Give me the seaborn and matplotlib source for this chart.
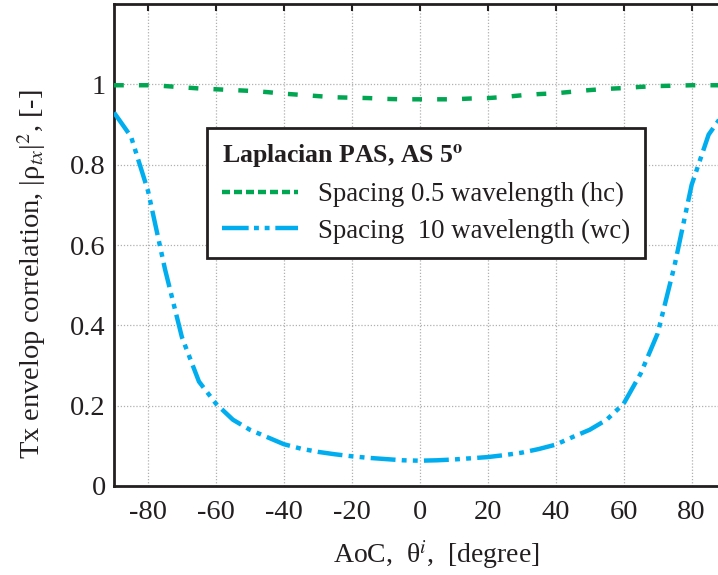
import numpy as np
import pandas as pd
import matplotlib
matplotlib.use("Agg")
import matplotlib.pyplot as plt
import seaborn as sns

# ---- data ----
angle = [-90, -85, -80, -75, -70, -65, -60, -55, -50, -45, -40, -35, -30, -25, -20, -15, -10, -5,
         0, 5, 10, 15, 20, 25, 30, 35, 40, 45, 50, 55, 60, 65, 70, 75, 80, 85, 90]
corr_hc = [0.998, 0.998, 0.998, 0.996, 0.993, 0.990, 0.988, 0.986, 0.984, 0.981, 0.977, 0.974,
           0.971, 0.968, 0.967, 0.966, 0.964, 0.963, 0.963, 0.963, 0.963, 0.965, 0.966, 0.969,
           0.973, 0.976, 0.978, 0.982, 0.986, 0.989, 0.991, 0.994, 0.996, 0.997, 0.998, 0.998, 0.998]
corr_wc = [0.930, 0.870, 0.735, 0.540, 0.370, 0.260, 0.205, 0.165, 0.140, 0.122, 0.104, 0.093,
           0.085, 0.079, 0.074, 0.070, 0.067, 0.064, 0.063, 0.064, 0.066, 0.069, 0.072, 0.077,
           0.083, 0.092, 0.103, 0.122, 0.140, 0.165, 0.205, 0.280, 0.380, 0.550, 0.750, 0.875, 0.935]
label_hc = "Spacing 0.5 wavelength (hc)"
label_wc = "Spacing  10 wavelength (wc)"
legend_title = r"Laplacian PAS, AS 5$^{\mathbf{o}}$"
xticks = [-80, -60, -40, -20, 0, 20, 40, 60, 80]
yticks = [0, 0.2, 0.4, 0.6, 0.8, 1.0]
ytick_labels = ["0", "0.2", "0.4", "0.6", "0.8", "1"]

df = pd.DataFrame({
    "angle": angle * 2,
    "corr": corr_hc + corr_wc,
    "series": [label_hc] * len(angle) + [label_wc] * len(angle),
})

sns.set_theme(style="white")
plt.rcParams["font.family"] = ["Liberation Serif", "DejaVu Serif"]
plt.rcParams["mathtext.fontset"] = "stix"

dark = "#231f20"
green = "#00a651"
blue = "#00aeef"

fig = plt.figure(figsize=(7.18, 5.75), dpi=100)
ax = fig.add_axes([0.1588, 0.1548, 0.8518, 0.838])

sns.lineplot(data=df, x="angle", y="corr", hue="series", style="series",
             palette={label_hc: green, label_wc: blue},
             dashes={label_hc: (2.2, 3.4), label_wc: (5.6, 1.4, 1.1, 1.4, 1.1, 1.4)},
             linewidth=3.2, ax=ax, legend=True, zorder=3)

ax.set_xlim(-90, 90)
ax.set_ylim(0, 1.2)
ax.set_xticks(xticks)
ax.set_xticklabels([str(v) for v in xticks])
ax.set_yticks(yticks)
ax.set_yticklabels(ytick_labels)
ax.grid(True, linestyle=(0, (1, 1.5)), color="#b0b0b0", linewidth=0.9)
ax.set_axisbelow(True)

for s in ax.spines.values():
    s.set_color(dark)
    s.set_linewidth(2.0)

ax.tick_params(axis="both", direction="in", top=True, right=True, length=5, width=1.5,
               color=dark, labelsize=20.5, labelcolor=dark)
ax.tick_params(axis="x", pad=10)
ax.tick_params(axis="y", pad=6)

ax.set_xlabel(r"AoC,  θ$^{i}$,  [degree]", fontsize=20, color=dark)
ax.xaxis.set_label_coords(0.527, -0.108)
ax.set_ylabel(r"Tx envelop correlation, |ρ$_{tx}$|$^{2}$, [-]", fontsize=20.5, color=dark)
ax.yaxis.set_label_coords(-0.108, 0.44)

leg = ax.legend(loc="upper left", bbox_to_anchor=(0.152, 0.743), title=legend_title,
                fontsize=19.3, title_fontsize=18.5, frameon=True, fancybox=False,
                handlelength=2.85, handletextpad=0.75, borderpad=0.55, labelspacing=0.42,
                borderaxespad=0.0, alignment="left")
leg.get_title().set_fontweight("bold")
leg.get_title().set_color(dark)
for t in leg.get_texts():
    t.set_color(dark)
for h in leg.get_lines():
    h.set_dashes([1.8, 0.9] if h.get_color() == green else [6, 1.2, 1.1, 1.3, 1.1, 1.3])
fr = leg.get_frame()
fr.set_edgecolor(dark)
fr.set_linewidth(2.0)
fr.set_facecolor("white")
fr.set_alpha(1)
leg.set_zorder(5)

fig.savefig("out.png", dpi=100)
